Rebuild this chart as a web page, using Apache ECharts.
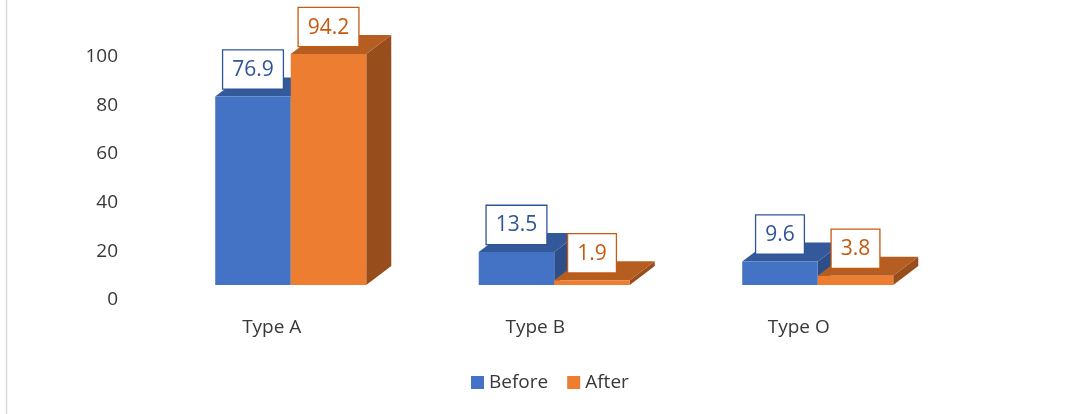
<!DOCTYPE html>
<html>
<head>
<meta charset="utf-8">
<script src="https://cdn.jsdelivr.net/npm/echarts@6/dist/echarts.min.js"></script>
<style>
  html, body { margin: 0; padding: 0; background: #ffffff; }
  #chart { width: 1078px; height: 414px; }
</style>
</head>
<body>
<div id="chart"></div>
<script>
// Blood type shares before and after, drawn as extruded (pseudo 3D) columns
const categories = ['Type A', 'Type B', 'Type O'];
const seriesNames = ['Before', 'After'];
const beforeValues = [76.9, 13.5, 9.6];
const afterValues = [94.2, 1.9, 3.8];
const yTicks = [0, 20, 40, 60, 80, 100];

const FONT = '"Open Sans", "Noto Sans", sans-serif';
const TEXT = '#383838';

// front / top / side face colours and label colours per series
const palette = [
  { front: '#4472C4', top: '#34599B', side: '#2D4E88', label: '#2F5597' },
  { front: '#ED7D31', top: '#B65E22', side: '#984D1C', label: '#C55A11' }
];

// depth of the extrusion, in pixels
const DX = 25, DY = -19;

function makeRender(seriesIdx) {
  const c = palette[seriesIdx];
  return function (params, api) {
    const cat = api.value(0);
    const val = api.value(1);
    const base = api.coord([cat, 0]);
    const top = api.coord([cat, val]);
    const band = api.size([1, 0])[0];
    const w = band * 0.2866;
    const x0 = seriesIdx === 0 ? base[0] - w : base[0];
    const x1 = x0 + w;
    const yb = base[1], yt = top[1];
    return {
      type: 'group',
      children: [
        { type: 'polygon', shape: { points: [[x1, yt], [x1 + DX, yt + DY], [x1 + DX, yb + DY], [x1, yb]] },
          style: { fill: c.side } },
        { type: 'polygon', shape: { points: [[x0, yt], [x1, yt], [x1 + DX, yt + DY], [x0 + DX, yt + DY]] },
          style: { fill: c.top } },
        { type: 'rect', shape: { x: x0, y: yt, width: w, height: yb - yt },
          style: { fill: c.front } },
        { type: 'text', x: (x0 + x1) / 2, y: yt - 8,
          style: {
            text: String(val),
            fill: c.label,
            font: '21px ' + FONT,
            align: 'center',
            verticalAlign: 'bottom',
            backgroundColor: '#ffffff',
            borderColor: c.label,
            borderWidth: 1.3,
            padding: [7, 9, 6, 9],
            lineHeight: 25
          } }
      ]
    };
  };
}

const chart = echarts.init(document.getElementById('chart'), null, { renderer: 'canvas' });

chart.setOption({
  animation: false,
  backgroundColor: '#ffffff',
  textStyle: { fontFamily: FONT },
  graphic: [
    { type: 'line', shape: { x1: 6.5, y1: 0, x2: 6.5, y2: 414 },
      style: { stroke: '#D9D9D9', lineWidth: 1.5 }, silent: true }
  ],
  legend: {
    data: seriesNames,
    left: 471,
    top: 373,
    padding: 0,
    icon: 'rect',
    itemWidth: 13,
    itemHeight: 13,
    itemGap: 19,
    textStyle: { color: TEXT, fontSize: 19, fontFamily: FONT, padding: [0, 0, 0, 0] }
  },
  grid: [
    // value scale shown on the left
    { left: 126, right: 128.5, top: 56.5, bottom: 114 },
    // column floor
    { left: 159, right: 128.5, top: 39.8, bottom: 129 }
  ],
  xAxis: [
    { gridIndex: 0, type: 'category', data: categories, show: false },
    { gridIndex: 1, type: 'category', data: categories,
      axisLine: { show: false }, axisTick: { show: false },
      axisLabel: { color: TEXT, fontSize: 19, fontFamily: FONT, margin: 33, padding: [0, 38, 0, 0] } }
  ],
  yAxis: [
    { gridIndex: 0, type: 'value', min: yTicks[0], max: yTicks[yTicks.length - 1], interval: yTicks[1] - yTicks[0],
      axisLine: { show: false }, axisTick: { show: false }, splitLine: { show: false },
      axisLabel: { color: TEXT, fontSize: 19, fontFamily: FONT, margin: 8 } },
    { gridIndex: 1, type: 'value', min: 0, max: 100, show: false, splitLine: { show: false } }
  ],
  series: [
    { name: seriesNames[0], type: 'custom', xAxisIndex: 1, yAxisIndex: 1,
      itemStyle: { color: palette[0].front },
      renderItem: makeRender(0),
      data: beforeValues.map((v, i) => [i, v]) },
    { name: seriesNames[1], type: 'custom', xAxisIndex: 1, yAxisIndex: 1,
      itemStyle: { color: palette[1].front },
      renderItem: makeRender(1),
      data: afterValues.map((v, i) => [i, v]) }
  ]
});
</script>
</body>
</html>
